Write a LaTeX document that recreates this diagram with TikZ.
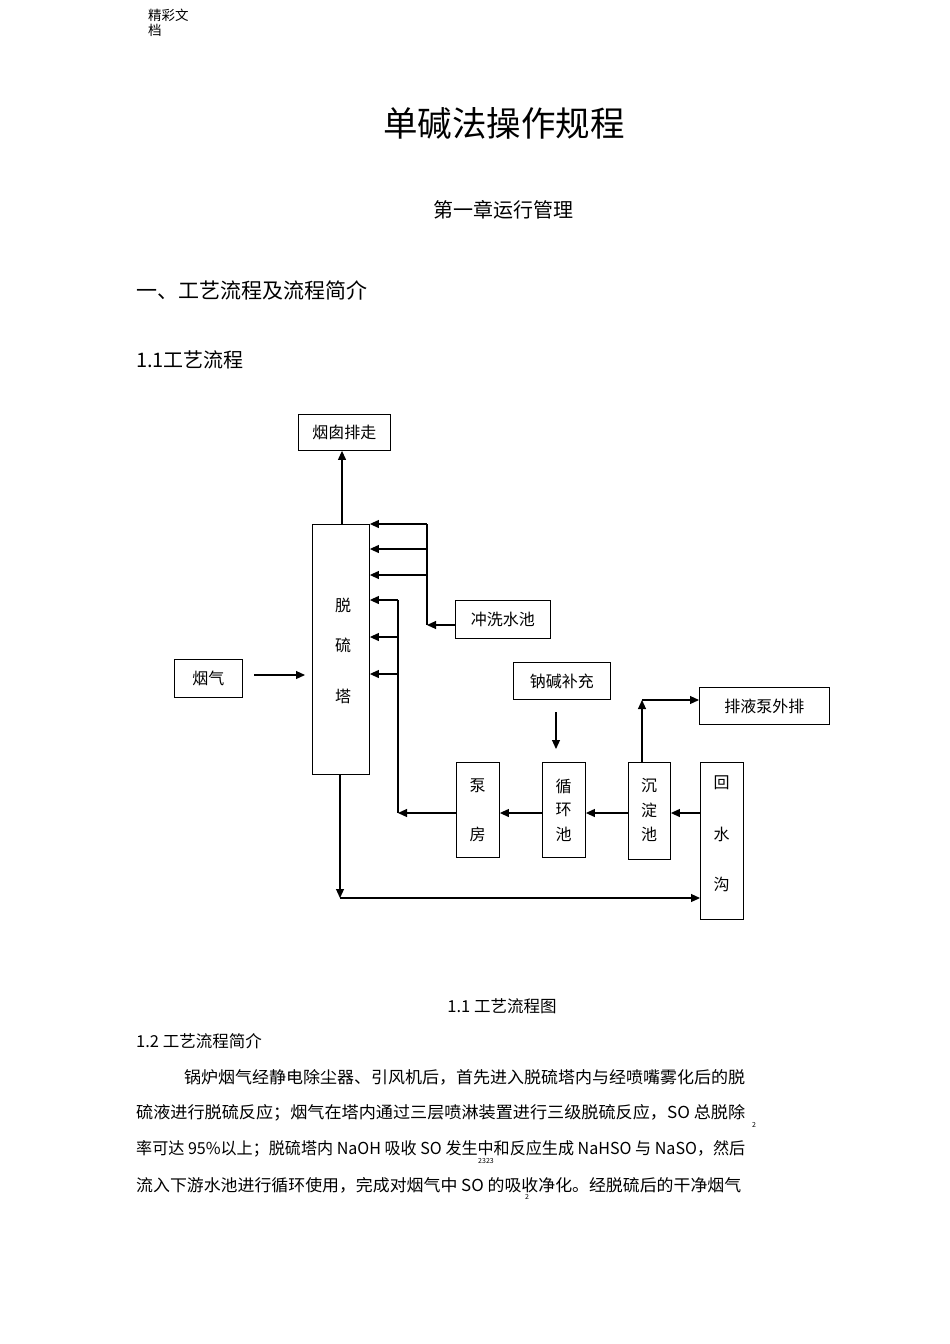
\documentclass[tikz,border=0pt]{standalone}
\usepackage{fontspec}
\usepackage{graphicx}
\setmainfont{Noto Sans CJK SC}
\usetikzlibrary{arrows.meta}
\begin{document}
\begin{tikzpicture}[x=1pt,y=-1pt,
  box/.style={draw, line width=0.9pt, inner sep=0pt, anchor=north west},
  lbl/.style={font=\fontsize{16}{16}\selectfont, inner sep=0pt},
  ln/.style={line width=1.1pt},
  arr/.style={line width=1.1pt, -{Triangle[length=9pt,width=8pt]}},
  body/.style={font=\fontsize{16.5}{16.5}\selectfont, anchor=west, inner sep=0pt},
  sub/.style={font=\fontsize{7}{7}\selectfont, inner sep=0pt}]
\useasboundingbox (0,0) rectangle (950,1344);
% page text
\node[anchor=west, inner sep=0pt, font=\fontsize{13.5}{13.5}\selectfont] (hd1) at (148,15) {精彩文};
\node[anchor=west, inner sep=0pt, font=\fontsize{13.5}{13.5}\selectfont] (hd2) at (148,30) {档};
\node[inner sep=0pt, font=\fontsize{34.5}{34.5}\selectfont] (title) at (504,123) {单碱法操作规程};
\node[inner sep=0pt, font=\fontsize{20}{20}\selectfont] (chap) at (503,210) {第一章运行管理};
\node[anchor=west, inner sep=0pt, font=\fontsize{21}{21}\selectfont] (sec1) at (136,290) {一、工艺流程及流程简介};
\node[anchor=west, inner sep=0pt, font=\fontsize{20}{20}\selectfont] (sec11) at (136,360) {1.1工艺流程};
% boxes
\node[box, minimum width=92pt, minimum height=36pt, lbl] (yc) at (298,414) {烟囱排走};
\node[box, minimum width=57pt, minimum height=250pt] (tower) at (312,524) {};
\node[lbl] (t1) at (343,605) {脱};
\node[lbl] (t2) at (343,645) {硫};
\node[lbl] (t3) at (343,696) {塔};
\node[box, minimum width=95pt, minimum height=38pt, lbl] (cx) at (455,600) {冲洗水池};
\node[box, minimum width=68pt, minimum height=38pt, lbl] (yq) at (174,659) {烟气};
\node[box, minimum width=97pt, minimum height=37pt, lbl] (nj) at (513,662) {钠碱补充};
\node[box, minimum width=130pt, minimum height=37pt, lbl] (pw) at (699,687) {排液泵外排};
\node[box, minimum width=43pt, minimum height=95pt] (bf) at (456,762) {};
\node[lbl] (bf1) at (477.5,786) {泵};
\node[lbl] (bf2) at (477.5,834) {房};
\node[box, minimum width=43pt, minimum height=95pt] (xh) at (542,762) {};
\node[lbl] (xh1) at (563.5,786) {循};
\node[lbl] (xh2) at (563.5,810) {环};
\node[lbl] (xh3) at (563.5,834) {池};
\node[box, minimum width=42pt, minimum height=97pt] (cd) at (628,762) {};
\node[lbl] (cd1) at (649,786) {沉};
\node[lbl] (cd2) at (649,810) {淀};
\node[lbl] (cd3) at (649,834) {池};
\node[box, minimum width=43pt, minimum height=157pt] (hs) at (700,762) {};
\node[lbl] (hs1) at (721.5,783) {回};
\node[lbl] (hs2) at (721.5,834) {水};
\node[lbl] (hs3) at (721.5,884) {沟};
% connectors
\coordinate (top) at (342,524);
\draw[arr] (top) -- (top |- yc.south);
\coordinate (c1) at (427,524);
\coordinate (c2) at (427,549);
\coordinate (c3) at (427,575);
\coordinate (c4) at (427,625);
\draw[ln] (c1) -- (c4);
\draw[arr] (c1) -- (c1 -| tower.east);
\draw[arr] (c2) -- (c2 -| tower.east);
\draw[arr] (c3) -- (c3 -| tower.east);
\draw[arr] (cx.west |- c4) -- (c4);
\coordinate (d1) at (398,600);
\coordinate (d2) at (398,637);
\coordinate (d3) at (398,674);
\coordinate (d4) at (398,813);
\draw[ln] (d1) -- (d4);
\draw[arr] (d1) -- (d1 -| tower.east);
\draw[arr] (d2) -- (d2 -| tower.east);
\draw[arr] (d3) -- (d3 -| tower.east);
\draw[arr] (bf.west |- d4) -- (d4);
\draw[arr] (xh.west |- d4) -- (bf.east |- d4);
\draw[arr] (cd.west |- d4) -- (xh.east |- d4);
\draw[arr] (hs.west |- d4) -- (cd.east |- d4);
\coordinate (g1) at (254,675);
\coordinate (g2) at (305,675);
\draw[arr] (g1) -- (g2);
\coordinate (n1) at (556,712);
\coordinate (n2) at (556,749);
\draw[arr] (n1) -- (n2);
\coordinate (e1) at (642,762);
\coordinate (e2) at (642,700);
\draw[arr] (e1) -- (e2);
\draw[arr] (e2) -- (e2 -| pw.west);
\coordinate (b1) at (340,774);
\coordinate (b2) at (340,898);
\draw[arr] (b1) -- (b2);
\draw[arr] (b2) -- (b2 -| hs.west);
% caption and text
\node[inner sep=0pt, font=\fontsize{16.5}{16.5}\selectfont] (cap) at (502,1006) {1.1 工艺流程图};
\node[anchor=west, inner sep=0pt, font=\fontsize{16.5}{16.5}\selectfont] (sec12) at (136,1041) {1.2 工艺流程简介};
\node[body] (p1) at (184,1077) {\resizebox{561pt}{\height}{锅炉烟气经静电除尘器、引风机后，首先进入脱硫塔内与经喷嘴雾化后的脱}};
\node[body] (p2) at (136,1113) {\resizebox{609pt}{\height}{硫液进行脱硫反应；烟气在塔内通过三层喷淋装置进行三级脱硫反应，SO 总脱除}};
\node[body] (p3) at (136,1149) {\resizebox{609pt}{\height}{率可达 95\%以上；脱硫塔内 NaOH 吸收 SO 发生中和反应生成 NaHSO 与 NaSO，然后}};
\node[body] (p4) at (136,1185) {\resizebox{605pt}{\height}{流入下游水池进行循环使用，完成对烟气中 SO 的吸收净化。经脱硫后的干净烟气}};
\node[sub] (s1) at (754,1125) {2};
\node[sub] (s2) at (486,1161) {2323};
\node[sub] (s3) at (527,1197) {2};
\end{tikzpicture}
\end{document}
